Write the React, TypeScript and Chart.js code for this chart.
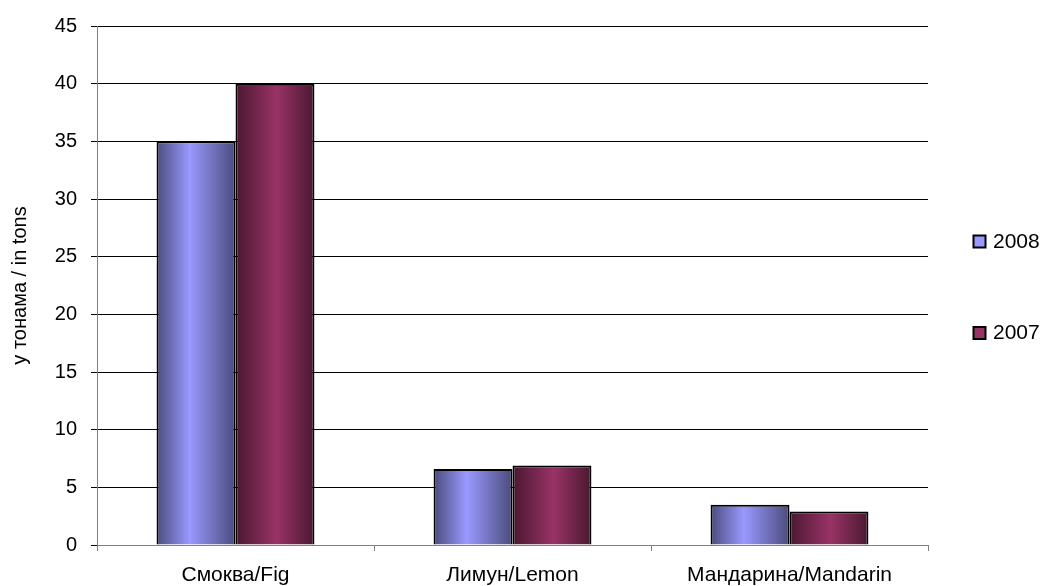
import React, { useEffect, useRef } from 'react';
import { Chart, registerables } from 'chart.js';

Chart.register(...registerables);

const categories = ['Смоква/Fig', 'Лимун/Lemon', 'Мандарина/Mandarin'];
const seriesLabels = ['2008', '2007'];
const values2008 = [35, 6.6, 3.5];
const values2007 = [40, 6.9, 2.9];
const yMin = 0;
const yMax = 45;
const yStep = 5;

const CAT_PCT = 0.57;
const FONT = '"Liberation Sans", Arial, sans-serif';

const light2008 = '#9999ff';
const dark2008 = '#4b4b7d';
const light2007 = '#993366';
const dark2007 = '#4a1830';

function gradientFor(light: string, dark: string, peak: number) {
  return (ctx: any) => {
    const chart = ctx.chart;
    const xs = chart.scales && chart.scales.x;
    if (!xs || !chart.chartArea) return light;
    const catW = xs.width / categories.length;
    const groupW = catW * CAT_PCT;
    const barW = groupW / 2;
    const center = xs.getPixelForValue(ctx.dataIndex);
    const left = center - groupW / 2 + ctx.datasetIndex * barW;
    if (!isFinite(left)) return light;
    const g = chart.ctx.createLinearGradient(left, 0, left + barW, 0);
    g.addColorStop(0, dark);
    g.addColorStop(peak, light);
    g.addColorStop(1, dark);
    return g;
  };
}

const legendPlugin = {
  id: 'customLegend',
  afterDraw(chart: any) {
    const c = chart.ctx;
    const items = [
      { label: seriesLabels[0], color: light2008, y: 241.5 },
      { label: seriesLabels[1], color: light2007, y: 333 },
    ];
    c.save();
    items.forEach((it) => {
      c.fillStyle = it.color;
      c.fillRect(973.5, it.y - 6, 12, 12);
      c.strokeStyle = '#000';
      c.lineWidth = 2;
      c.strokeRect(973.5, it.y - 6, 12, 12);
      c.fillStyle = '#000';
      c.font = `21px ${FONT}`;
      c.textBaseline = 'middle';
      c.textAlign = 'left';
      c.fillText(it.label, 993, it.y + 0.5);
    });
    c.restore();
  },
};

export default function App() {
  const ref = useRef<HTMLCanvasElement | null>(null);
  useEffect(() => {
    if (!ref.current) return;
    const chart = new Chart(ref.current, {
      type: 'bar',
      data: {
        labels: categories,
        datasets: [
          {
            label: seriesLabels[0],
            data: values2008,
            backgroundColor: gradientFor(light2008, dark2008, 0.42),
            borderColor: '#000',
            borderWidth: 2,
            categoryPercentage: CAT_PCT,
            barPercentage: 1,
          },
          {
            label: seriesLabels[1],
            data: values2007,
            backgroundColor: gradientFor(light2007, dark2007, 0.52),
            borderColor: '#000',
            borderWidth: 2,
            categoryPercentage: CAT_PCT,
            barPercentage: 1,
          },
        ],
      },
      options: {
        responsive: false,
        animation: false,
        devicePixelRatio: 1,
        layout: { padding: { top: 24, right: 114, bottom: 0, left: 0 } },
        plugins: {
          legend: { display: false },
          tooltip: { enabled: false },
          title: { display: false },
        },
        scales: {
          x: {
            grid: {
              offset: true,
              drawOnChartArea: false,
              tickLength: 6,
              tickColor: '#808080',
            },
            border: { color: '#808080', width: 1 },
            ticks: {
              color: '#000',
              font: { family: FONT, size: 21 },
              padding: 12,
              maxRotation: 0,
              autoSkip: false,
            },
            afterFit: (scale: any) => {
              scale.height = 41;
            },
          },
          y: {
            min: yMin,
            max: yMax,
            ticks: {
              stepSize: yStep,
              color: '#000',
              font: { family: FONT, size: 20 },
              padding: 14,
            },
            grid: {
              color: '#000',
              lineWidth: 1,
              tickLength: 6,
              tickColor: '#000',
            },
            border: { color: '#808080', width: 1 },
            title: {
              display: true,
              text: 'у тонама / in tons',
              color: '#000',
              font: { family: FONT, size: 20 },
              padding: { top: 8, bottom: 0 },
            },
            afterFit: (scale: any) => {
              scale.width = 97;
            },
          },
        },
      },
      plugins: [legendPlugin],
    });
    return () => chart.destroy();
  }, []);
  return (
    <div style={{ position: 'absolute', left: 0, top: 0, width: 1042, height: 586, background: '#fff' }}>
      <canvas ref={ref} width={1042} height={586} />
    </div>
  );
}
